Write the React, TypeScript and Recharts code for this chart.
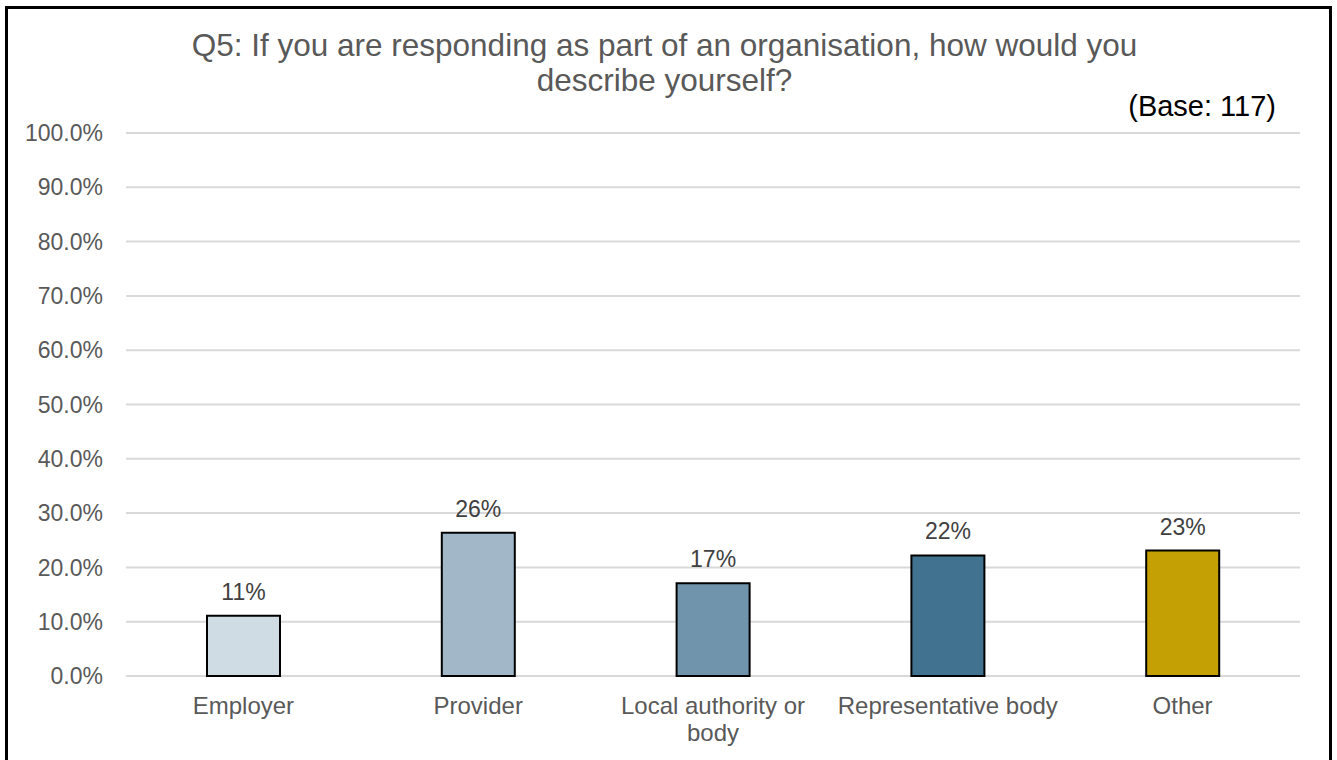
import { BarChart, Bar, XAxis, YAxis, CartesianGrid, LabelList, Cell } from 'recharts'

const categories = ['Employer', 'Provider', 'Local authority or body', 'Representative body', 'Other']
const shares = [11.1, 26.4, 17.1, 22.2, 23.1]
const barColors = ['#CFDCE4', '#A2B8C8', '#7094AC', '#41728F', '#C4A004']
const yTicks = [0, 10, 20, 30, 40, 50, 60, 70, 80, 90, 100]

const FONT = '"Liberation Sans", Arial, sans-serif'

const data = categories.map((name, i) => ({ name, value: shares[i] }))

// greedy word wrap, measured with a canvas so it follows the real font
function wrap(label: string, maxWidth: number, font: string) {
  const ctx = document.createElement('canvas').getContext('2d')
  if (!ctx) return [label]
  ctx.font = font
  const lines: string[] = []
  let cur = ''
  label.split(' ').forEach(w => {
    const next = cur ? `${cur} ${w}` : w
    if (cur && ctx.measureText(next).width > maxWidth) {
      lines.push(cur)
      cur = w
    } else {
      cur = next
    }
  })
  if (cur) lines.push(cur)
  return lines
}

function CategoryTick(props: any) {
  const { x, y, payload } = props
  const lines = wrap(String(payload.value), 230, `24px ${FONT}`)
  return (
    <text x={x} y={y + 38} textAnchor="middle" fill="#595959" style={{ fontSize: 24, fontFamily: FONT }}>
      {lines.map((l, i) => (
        <tspan key={i} x={x} dy={i === 0 ? 0 : 27}>{l}</tspan>
      ))}
    </text>
  )
}

export default function App() {
  return (
    <div
      style={{
        position: 'absolute', left: 5, top: 6, width: 1327, height: 760,
        boxSizing: 'border-box', border: '3px solid #000', background: '#fff', fontFamily: FONT,
      }}
    >
      <BarChart
        width={1320}
        height={754}
        data={data}
        margin={{ top: 124, right: 28, bottom: 7, left: 0 }}
        style={{ position: 'absolute', left: 0, top: 0 }}
      >
        <CartesianGrid vertical={false} stroke="#D9D9D9" strokeWidth={2} />
        <XAxis
          dataKey="name"
          axisLine={false}
          tickLine={false}
          tickSize={0}
          tickMargin={0}
          height={80}
          interval={0}
          tick={<CategoryTick />}
        />
        <YAxis
          width={118}
          domain={[0, 100]}
          ticks={yTicks}
          axisLine={false}
          tickLine={false}
          tickSize={0}
          tickMargin={23}
          tickFormatter={v => `${Number(v).toFixed(1)}%`}
          tick={{ fill: '#595959', fontSize: 23, fontFamily: FONT }}
        />
        <Bar dataKey="value" barSize={73} stroke="#000" strokeWidth={2} isAnimationActive={false}>
          {data.map((d, i) => <Cell key={d.name} fill={barColors[i]} />)}
          <LabelList
            dataKey="value"
            position="top"
            offset={16}
            formatter={(v: any) => `${Math.round(Number(v))}%`}
            style={{ fill: '#404040', fontSize: 23, fontFamily: FONT }}
          />
        </Bar>
      </BarChart>

      <div
        style={{
          position: 'absolute', top: 19, left: 0, right: 8, textAlign: 'center',
          fontSize: 31.5, lineHeight: '35px', color: '#595959',
        }}
      >
        Q5: If you are responding as part of an organisation, how would you
        <br />
        describe yourself?
      </div>
      <div
        style={{
          position: 'absolute', top: 81, right: 53, fontSize: 29, lineHeight: '33px', color: '#000',
        }}
      >
        (Base: 117)
      </div>
    </div>
  )
}
